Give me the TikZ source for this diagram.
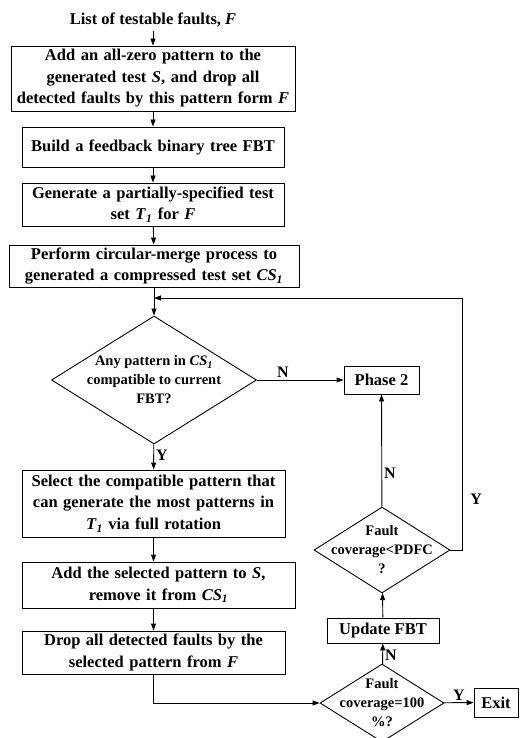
\documentclass[tikz,border=0pt]{standalone}
\usepackage{fontspec}
\setmainfont{Liberation Serif}
\usetikzlibrary{arrows.meta,shapes.geometric}
\newcommand{\vF}{\textit{F}}
\newcommand{\vS}{\textit{S}}
\newcommand{\vT}{\textit{T}\textsubscript{\textit{1}}}
\newcommand{\vCS}{\textit{CS}\textsubscript{\textit{1}}}
\begin{document}
\begin{tikzpicture}[x=1pt,y=1pt,>={Triangle[length=7pt,width=5pt]},line width=0.9pt,
  font=\bfseries\fontsize{16.5}{21.5}\selectfont,
  box/.style={draw,align=center,inner sep=1pt},
  dec/.style={draw,diamond,align=center,inner sep=-20pt,font=\bfseries\fontsize{14.5}{19}\selectfont},
  lbl/.style={font=\bfseries\fontsize{16}{18}\selectfont,inner sep=2pt}]
\useasboundingbox (0,0) rectangle (521,-738);
\node(lst) at (153,-20){List of testable faults, \vF};
\node[box,minimum width=284,minimum height=65,text width=282](addz) at (153,-78.5){Add an all-zero pattern to the\\generated test \vS, and drop all\\detected faults by this pattern form \vF};
\node[box,minimum width=262,minimum height=40,text width=258](fbt) at (153,-147){Build a feedback binary tree FBT};
\node[box,minimum width=262,minimum height=43,text width=258](gen) at (153,-204.5){Generate a partially-specified test\\set \vT{} for \vF};
\node[box,minimum width=290,minimum height=42,text width=288](merge) at (154,-266){Perform circular-merge process to\\generated a compressed test set \vCS};
\coordinate(join) at (154,-298);
\node[dec,minimum width=205,minimum height=128](any) at (154,-380){Any pattern in \vCS\\compatible to current\\FBT?};
\node[box,minimum width=75,minimum height=28](ph2) at (381.5,-380){Phase 2};
\node[box,minimum width=263,minimum height=67,text width=261](sel) at (153.5,-503.5){Select the compatible pattern that\\can generate the most patterns in\\\vT{} via full rotation};
\node[box,minimum width=273,minimum height=46,text width=270](addp) at (158.5,-585){Add the selected pattern to \vS,\\remove it from \vCS};
\node[box,minimum width=263,minimum height=43,text width=261](drop) at (153.5,-652.5){Drop all detected faults by the\\selected pattern from \vF};
\node[dec,minimum width=124,minimum height=78](full) at (382,-703){Fault\\coverage=100\\\%?};
\node[box,minimum width=44,minimum height=29](ex) at (496,-702.5){Exit};
\node[box,minimum width=112,minimum height=25](upd) at (383,-630.5){Update FBT};
\node[dec,minimum width=136,minimum height=86](pdfc) at (382,-550){Fault\\coverage<PDFC\\?};
\coordinate(turn) at (462,-298);
\draw[->](lst)--(addz);\draw[->](addz)--(fbt);\draw[->](fbt)--(gen);\draw[->](gen)--(merge);\draw[->](merge)--(any);
\draw[->](any)--node[lbl,right,pos=0.45]{Y}(sel);\draw[->](any)--node[lbl,above,pos=0.3]{N}(ph2);
\draw[->](sel.south)--(sel.south|-addp.north);\draw[->](addp.south-|sel.south)--(drop.north);\draw[->](drop.south)|-(full.west);
\draw[->](full)--node[lbl,above]{Y}(ex);\draw[->](full)--node[lbl,right,pos=0.4]{N}(upd);\draw[->](upd)--(pdfc);
\draw[->](pdfc)--node[lbl,right,pos=0.3]{N}(ph2);
\draw[->](pdfc.east)-|node[lbl,right,pos=0.6,xshift=6pt]{Y}(turn)--(join);
\end{tikzpicture}
\end{document}
